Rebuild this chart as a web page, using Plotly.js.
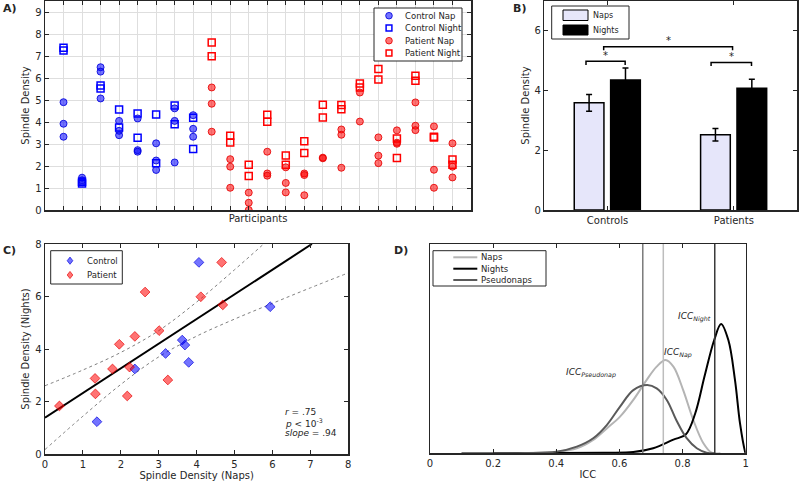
<!DOCTYPE html>
<html><head><meta charset="utf-8">
<script src="https://cdn.plot.ly/plotly-3.0.1.min.js"></script>
<style>html,body{margin:0;padding:0;background:#fff}#chart{width:800px;height:482px}</style>
</head><body><div id="chart"></div>
<script>
// ---------- Panel A: spindle density per participant ----------
const controlIds = [1, 2, 3, 4, 5, 6, 7, 8];
const patientIds = [9, 10, 11, 12, 13, 14, 15, 16, 17, 18, 19, 20, 21, 22];
const participantTicks = [1,2,3,4,5,6,7,8,9,10,11,12,13,14,15,16,17,18,19,20,21,22];
const densityTicks = [0,1,2,3,4,5,6,7,8,9];
const controlNaps = [[4.90,3.92,3.33],[1.47,1.35,1.28],[6.49,6.29,5.07],[4.05,3.60,3.40],[4.16,2.72,2.65],[3.03,2.25,1.82],[4.62,4.05,2.16],[4.31,3.69,3.33]];
const controlNights = [[7.38,7.25],[1.28,1.20],[5.66,5.52],[4.57,3.75],[4.39,3.28],[4.34,2.12],[4.75,3.90],[4.19,2.77]];
const patientNaps = [[5.57,4.83,3.56],[2.31,1.97,1.01],[0.79,0.33,0.00],[2.65,1.66,1.56],[1.94,1.23,0.80],[1.66,1.59,0.67],[2.38,2.35],[3.66,3.42,1.92],[5.34,4.02],[3.30,2.47,2.13],[3.62,3.06,3.01],[4.89,3.83,3.63],[3.80,1.83,1.01],[3.03,1.97,1.48]];
const patientNights = [[7.61,6.99],[3.37,3.07],[2.06,1.54],[4.33,4.01],[2.48,2.06],[3.13,2.59],[4.78,4.21],[4.77,4.58],[5.75,5.57],[6.41,5.93],[3.25,2.36],[6.10,5.87],[3.33,3.29],[2.30,2.06]];

// ---------- Panel B: group means ----------
const groupNames = ['Controls', 'Patients'];
const groupPos = [1, 2];
const napMeans = [3.59, 2.52];
const napSem = [0.28, 0.21];
const nightMeans = [4.35, 4.08];
const nightSem = [0.41, 0.30];
const barTicks = [0, 2, 4, 6];

// ---------- Panel C: nap vs night ----------
const ctrlNap = [4.06, 5.94, 3.62, 3.69, 3.18, 3.79, 2.37, 1.37];
const ctrlNight = [7.30, 5.61, 4.34, 4.15, 3.83, 3.49, 3.24, 1.23];
const patNap = [0.38, 1.32, 1.33, 1.78, 1.96, 2.17, 2.23, 2.37, 2.64, 3.01, 3.24, 4.11, 4.66, 4.69];
const patNight = [1.83, 2.88, 2.29, 3.24, 4.18, 2.21, 3.31, 4.48, 6.17, 4.70, 2.82, 5.99, 7.30, 5.68];
const fitX = [0, 7.04];
const fitY = [1.38, 8.00];
const ciX = [0, 1, 2, 3, 4, 5, 6, 7, 8];
const ciUpper = [2.60, 3.20, 3.87, 4.70, 5.79, 7.02, 8.30, 9.59, 10.90];
const ciLower = [0.17, 1.44, 2.65, 3.70, 4.49, 5.14, 5.74, 6.33, 6.90];

// ---------- Panel D: ICC distributions ----------
const napsX = [0.10, 0.30, 0.401, 0.465, 0.517, 0.560, 0.602, 0.644, 0.686, 0.718, 0.746, 0.771, 0.802, 0.834, 0.866, 0.892, 0.92];
const napsY = [0, 0.001, 0.008, 0.024, 0.064, 0.119, 0.175, 0.255, 0.350, 0.414, 0.446, 0.414, 0.302, 0.159, 0.048, 0.003, 0];
const nightsX = [0.20, 0.40, 0.55, 0.644, 0.707, 0.771, 0.81, 0.84, 0.87, 0.90, 0.922, 0.945, 0.966, 0.982, 0.998, 1.0];
const nightsY = [0, 0.001, 0.003, 0.006, 0.024, 0.065, 0.09, 0.19, 0.37, 0.54, 0.618, 0.541, 0.351, 0.143, 0.008, 0];
const pseudoX = [0.10, 0.30, 0.401, 0.465, 0.517, 0.560, 0.602, 0.644, 0.688, 0.718, 0.750, 0.780, 0.813, 0.845, 0.876, 0.90];
const pseudoY = [0, 0.001, 0.008, 0.032, 0.072, 0.135, 0.223, 0.302, 0.326, 0.310, 0.255, 0.159, 0.072, 0.024, 0.003, 0];
const iccPseudonap = [0.674];
const iccNap = [0.739];
const iccNight = [0.902];

// ---------- helpers ----------
const FONT = 'DejaVu Sans, sans-serif';
const INK = '#262626';
const PX = p => p / 800;
const PY = p => 1 - p / 482;
function flatten(ids, groups) {
  const x = [], y = [];
  groups.forEach((vals, i) => vals.forEach(v => { x.push(ids[i]); y.push(v); }));
  return {x, y};
}
const cN = flatten(controlIds, controlNaps);
const cG = flatten(controlIds, controlNights);
const pN = flatten(patientIds, patientNaps);
const pG = flatten(patientIds, patientNights);

const BLUE_FILL = 'rgba(0,0,255,0.55)', BLUE_EDGE = 'rgba(0,0,220,0.85)';
const RED_FILL = 'rgba(255,0,0,0.55)', RED_EDGE = 'rgba(230,0,0,0.85)';
const NAP_GRAY = '#b4b4b4', NIGHT_K = '#000000', PSEUDO_GRAY = '#5a5a5a';

const traces = [
  // A
  {type:'scatter', mode:'markers', x:cN.x, y:cN.y, xaxis:'x', yaxis:'y', name:'Control Nap',
   marker:{symbol:'circle', size:7, color:BLUE_FILL, line:{color:BLUE_EDGE, width:1}}},
  {type:'scatter', mode:'markers', x:cG.x, y:cG.y, xaxis:'x', yaxis:'y', name:'Control Night',
   marker:{symbol:'square-open', size:7, color:'#0000ff', line:{width:1.5}}},
  {type:'scatter', mode:'markers', x:pN.x, y:pN.y, xaxis:'x', yaxis:'y', name:'Patient Nap',
   marker:{symbol:'circle', size:7, color:RED_FILL, line:{color:RED_EDGE, width:1}}},
  {type:'scatter', mode:'markers', x:pG.x, y:pG.y, xaxis:'x', yaxis:'y', name:'Patient Night',
   marker:{symbol:'square-open', size:7, color:'#ff0000', line:{width:1.5}}},
  // B
  {type:'bar', x:groupPos, y:napMeans, width:0.235, offset:-0.263, xaxis:'x2', yaxis:'y2', name:'Naps',
   marker:{color:'#e6e6fa', line:{color:'#000', width:1.5}},
   error_y:{type:'data', array:napSem, color:'#000', thickness:1.5, width:3}},
  {type:'bar', x:groupPos, y:nightMeans, width:0.235, offset:0.025, xaxis:'x2', yaxis:'y2', name:'Nights',
   marker:{color:'#000', line:{color:'#000', width:1.5}},
   error_y:{type:'data', array:nightSem, color:'#000', thickness:1.5, width:3}},
];

// significance brackets (panel B)
const brackets = [[0.83, 1.14, 4.98], [1.82, 2.14, 4.94], [0.97, 1.99, 5.47]];
brackets.forEach(b => {
  traces.push({type:'scatter', mode:'lines', x:[b[0], b[0], b[1], b[1]], y:[b[2]-0.12, b[2], b[2], b[2]-0.12],
    xaxis:'x2', yaxis:'y2', line:{color:'#000', width:1.5}, hoverinfo:'skip'});
});

// C
traces.push(
  {type:'scatter', mode:'lines', x:ciX, y:ciUpper, xaxis:'x3', yaxis:'y3', line:{color:'#808080', width:1, dash:'dot', shape:'spline'}},
  {type:'scatter', mode:'lines', x:ciX, y:ciLower, xaxis:'x3', yaxis:'y3', line:{color:'#808080', width:1, dash:'dot', shape:'spline'}},
  {type:'scatter', mode:'lines', x:fitX, y:fitY, xaxis:'x3', yaxis:'y3', line:{color:'#000', width:2}},
  {type:'scatter', mode:'markers', x:ctrlNap, y:ctrlNight, xaxis:'x3', yaxis:'y3', name:'Control',
   marker:{symbol:'diamond', size:7.5, color:BLUE_FILL, line:{color:BLUE_EDGE, width:0.8}}},
  {type:'scatter', mode:'markers', x:patNap, y:patNight, xaxis:'x3', yaxis:'y3', name:'Patient',
   marker:{symbol:'diamond', size:7.5, color:RED_FILL, line:{color:RED_EDGE, width:0.8}}}
);

// D
traces.push(
  {type:'scatter', mode:'lines', x:napsX, y:napsY, xaxis:'x4', yaxis:'y4', name:'Naps', line:{color:NAP_GRAY, width:2, shape:'spline'}},
  {type:'scatter', mode:'lines', x:nightsX, y:nightsY, xaxis:'x4', yaxis:'y4', name:'Nights', line:{color:NIGHT_K, width:2, shape:'spline'}},
  {type:'scatter', mode:'lines', x:pseudoX, y:pseudoY, xaxis:'x4', yaxis:'y4', name:'Pseudonaps', line:{color:PSEUDO_GRAY, width:2, shape:'spline'}},
  {type:'scatter', mode:'lines', x:[iccPseudonap[0], iccPseudonap[0]], y:[0, 1], xaxis:'x4', yaxis:'y4', line:{color:'#7a7a7a', width:1.5}},
  {type:'scatter', mode:'lines', x:[iccNap[0], iccNap[0]], y:[0, 1], xaxis:'x4', yaxis:'y4', line:{color:'#bdbdbd', width:1.5}},
  {type:'scatter', mode:'lines', x:[iccNight[0], iccNight[0]], y:[0, 1], xaxis:'x4', yaxis:'y4', line:{color:'#3a3a3a', width:1.5}}
);
traces.forEach(t => { t.showlegend = false; t.hoverinfo = 'skip'; });

const frame = {showline:true, linecolor:INK, linewidth:1.5, mirror:'ticks', ticks:'inside', tickcolor:INK,
  ticklen:4, tickwidth:1, zeroline:false, showgrid:false, fixedrange:true,
  tickfont:{family:FONT, size:10, color:INK}};
const tfont = {family:FONT, size:10, color:INK};

const shapes = [];
const annotations = [];
function box(x0, y0, x1, y1) {
  shapes.push({type:'rect', xref:'paper', yref:'paper', x0:PX(x0), x1:PX(x1), y0:PY(y1), y1:PY(y0),
    line:{color:INK, width:1}, fillcolor:'#fff', layer:'above'});
}
function label(x, y, text, size, extra) {
  annotations.push(Object.assign({xref:'paper', yref:'paper', x:PX(x), y:PY(y), text:text, showarrow:false,
    xanchor:'left', yanchor:'middle', font:{family:FONT, size:size, color:INK}}, extra || {}));
}
function circ(cx, cy, r, fill, edge) {
  shapes.push({type:'circle', xref:'paper', yref:'paper', x0:PX(cx-r), x1:PX(cx+r), y0:PY(cy+r), y1:PY(cy-r),
    fillcolor:fill, line:{color:edge, width:1}, layer:'above'});
}
function sq(cx, cy, h, edge) {
  shapes.push({type:'rect', xref:'paper', yref:'paper', x0:PX(cx-h), x1:PX(cx+h), y0:PY(cy+h), y1:PY(cy-h),
    fillcolor:'rgba(0,0,0,0)', line:{color:edge, width:1.5}, layer:'above'});
}
function diamond(cx, cy, w, h, fill, edge) {
  shapes.push({type:'path', xref:'paper', yref:'paper',
    path:`M${PX(cx)},${PY(cy-h)} L${PX(cx+w)},${PY(cy)} L${PX(cx)},${PY(cy+h)} L${PX(cx-w)},${PY(cy)} Z`,
    fillcolor:fill, line:{color:edge, width:0.8}, layer:'above'});
}
function seg(x0, x1, y, color) {
  shapes.push({type:'line', xref:'paper', yref:'paper', x0:PX(x0), x1:PX(x1), y0:PY(y), y1:PY(y),
    line:{color:color, width:2}, layer:'above'});
}
function rectSw(x0, y0, x1, y1, fill) {
  shapes.push({type:'rect', xref:'paper', yref:'paper', x0:PX(x0), x1:PX(x1), y0:PY(y1), y1:PY(y0),
    fillcolor:fill, line:{color:'#000', width:1}, layer:'above'});
}

// Legend A
box(374, 8, 462, 61);
circ(389, 15.7, 3.3, BLUE_FILL, BLUE_EDGE); label(403, 15.7, 'Control Nap', 8.5);
sq(389, 28, 2.9, '#0000ff'); label(403, 28, 'Control Night', 8.5);
circ(389, 40.7, 3.3, RED_FILL, RED_EDGE); label(403, 40.7, 'Patient Nap', 8.5);
sq(389, 53, 2.9, '#ff0000'); label(403, 53, 'Patient Night', 8.5);
// Legend B
box(551.7, 6, 629, 39);
rectSw(563, 10, 588, 20.5, '#e6e6fa'); label(591, 15.3, 'Naps', 8);
rectSw(563, 25, 588, 35, '#000'); label(591, 30, 'Nights', 8);
// Legend C
box(50.7, 250.7, 122.3, 284);
diamond(70, 260.7, 2.8, 3.6, BLUE_FILL, BLUE_EDGE); label(85, 260.7, 'Control', 8.5);
diamond(70, 275, 2.8, 3.6, RED_FILL, RED_EDGE); label(85, 275, 'Patient', 8.5);
// Legend D
box(433, 250.7, 546, 286);
seg(453.3, 477.3, 257.3, NAP_GRAY); label(478.5, 257.3, 'Naps', 8.5);
seg(453.3, 477.3, 268.7, NIGHT_K); label(478.5, 268.7, 'Nights', 8.5);
seg(453.3, 477.3, 280, PSEUDO_GRAY); label(478.5, 280, 'Pseudonaps', 8.5);

// Panel labels
label(1, 8, '<b>A)</b>', 11);
label(511, 8, '<b>B)</b>', 11);
label(1, 250, '<b>C)</b>', 11);
label(392, 250, '<b>D)</b>', 11);

// Stats in C
label(282.5, 411.7, '<i>r</i> = .75', 9);
label(282.5, 422.7, '<i>p</i> &lt; 10<sup>-3</sup>', 9);
label(282.5, 433, '<i>slope</i> = .94', 9);

// Stars in B
brackets.forEach(b => {
  annotations.push({xref:'x2', yref:'y2', x:(b[0]+b[1])/2, y:b[2]+0.2, text:'*', showarrow:false,
    font:{family:FONT, size:10, color:INK}, xanchor:'center', yanchor:'middle'});
});

// ICC labels in D
const iccFont = {family:FONT, size:9, color:INK};
annotations.push(
  {xref:'x4', yref:'y4', x:0.839, y:0.650, text:'<i>ICC<sub>Night</sub></i>', showarrow:false, font:iccFont},
  {xref:'x4', yref:'y4', x:0.785, y:0.478, text:'<i>ICC<sub>Nap</sub></i>', showarrow:false, font:iccFont},
  {xref:'x4', yref:'y4', x:0.509, y:0.383, text:'<i>ICC<sub>Pseudonap</sub></i>', showarrow:false, font:iccFont}
);

const layout = {
  width:800, height:482, margin:{l:0, r:0, t:0, b:0},
  paper_bgcolor:'#fff', plot_bgcolor:'#fff', showlegend:false, barmode:'overlay',
  font:{family:FONT, size:10, color:INK},
  xaxis: Object.assign({}, frame, {domain:[PX(45), PX(471)], range:[0, 23], tickvals:participantTicks,
    showticklabels:false, showgrid:true, gridcolor:'#dedede', gridwidth:1, anchor:'y',
    title:{text:'Participants', font:tfont, standoff:4}}),
  yaxis: Object.assign({}, frame, {domain:[PY(210), PY(1)], range:[0, 9.5], tickvals:densityTicks,
    showgrid:true, gridcolor:'#dedede', gridwidth:1, anchor:'x',
    title:{text:'Spindle Density', font:tfont, standoff:3}}),
  xaxis2: Object.assign({}, frame, {domain:[PX(544.3), PX(797)], range:[0.5, 2.5], tickvals:groupPos,
    ticktext:groupNames, anchor:'y2'}),
  yaxis2: Object.assign({}, frame, {domain:[PY(210), PY(1)], range:[0, 7], tickvals:barTicks, anchor:'x2',
    title:{text:'Spindle Density', font:tfont, standoff:3}}),
  xaxis3: Object.assign({}, frame, {domain:[PX(45), PX(348.3)], range:[0, 8], dtick:1, anchor:'y3',
    title:{text:'Spindle Density (Naps)', font:tfont, standoff:3}}),
  yaxis3: Object.assign({}, frame, {domain:[PY(454), PY(244)], range:[0, 8], dtick:2, anchor:'x3',
    title:{text:'Spindle Density (Nights)', font:tfont, standoff:3}}),
  xaxis4: Object.assign({}, frame, {domain:[PX(430), PX(745.7)], range:[0, 1], dtick:0.2, anchor:'y4',
    title:{text:'ICC', font:tfont, standoff:3}}),
  yaxis4: Object.assign({}, frame, {domain:[PY(453.3), PY(244)], range:[0, 1], anchor:'x4',
    showticklabels:false, ticks:'', mirror:true}),
  shapes: shapes,
  annotations: annotations
};

Plotly.newPlot('chart', traces, layout, {staticPlot:true, displayModeBar:false});
</script>
</body></html>
